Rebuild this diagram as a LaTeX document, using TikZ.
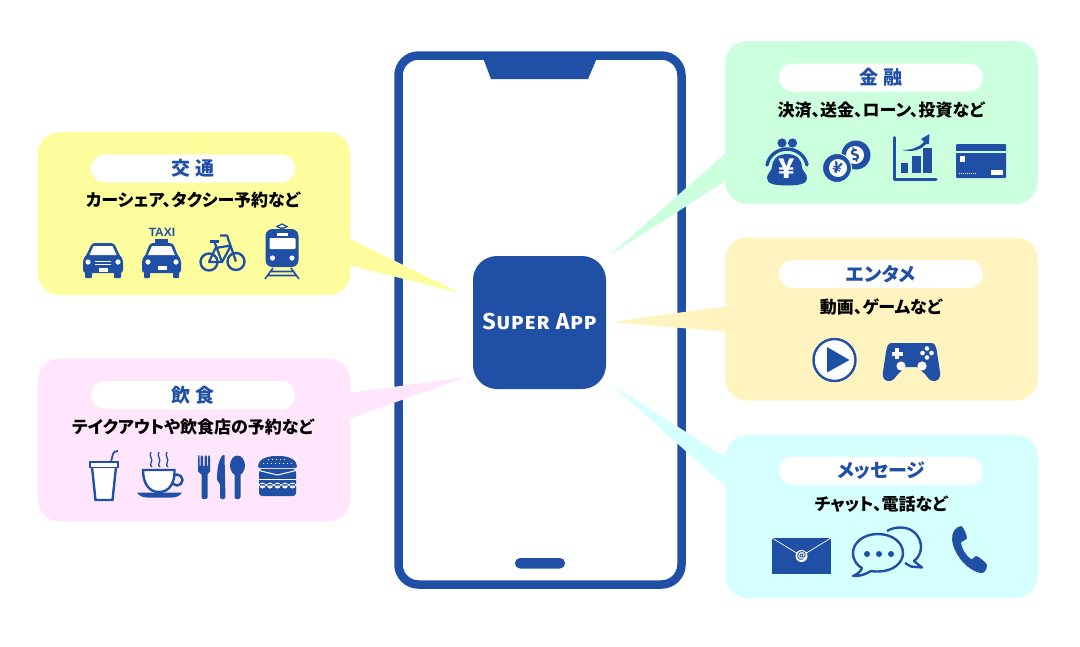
\documentclass[tikz,border=0pt]{standalone}
\usepackage{fontspec}
\setmainfont[RawFeature=+palt]{Noto Sans CJK JP}
\newfontfamily\appfont[Letters=SmallCaps,LetterSpace=4]{Fira Sans}
\newfontfamily\taxifont{Liberation Sans}
\usepackage{tikz}
\usetikzlibrary{positioning}
\usepackage{xcolor}
\definecolor{appblue}{HTML}{2050A5}
\definecolor{yellowbg}{HTML}{FDFD9E}
\definecolor{pinkbg}{HTML}{FFE6FC}
\definecolor{greenbg}{HTML}{CCFFDD}
\definecolor{creambg}{HTML}{FFF4BF}
\definecolor{cyanbg}{HTML}{D6FFFF}
\tikzset{
  infobox/.style={rounded corners=22pt,minimum width=312.5pt,minimum height=163pt,inner sep=0pt},
  titlepill/.style={fill=white,rounded corners=14pt,minimum width=204pt,minimum height=28pt,inner sep=0pt,
    text=appblue,font=\fontsize{19}{19}\selectfont\bfseries},
  infotext/.style={inner sep=0pt,font=\fontsize{17}{17}\selectfont\bfseries},
  iconline/.style={draw=appblue,line width=2.4pt},
}
\begin{document}
\begin{tikzpicture}[x=1pt,y=-1pt]
\useasboundingbox (0,0) rectangle (1080,646);
% phone
\draw[appblue,line width=8.5pt,rounded corners=20pt] (398.5,55.5) rectangle (681.5,584.5);
\fill[appblue] (483,58)--(597,58)--(588,79)--(491,79)--cycle;
\fill[appblue,rounded corners=5pt] (515,558) rectangle (565,568.5);
\node[fill=appblue,rounded corners=24pt,minimum size=133pt,inner sep=0pt,text=white,
  font=\fontsize{23}{23}\selectfont\appfont\bfseries] (superapp) at (539.5,322.5) {\raisebox{1.5pt}{Super App}};
% boxes
\node[infobox,fill=yellowbg] (kotsu) at (194,213.5) {};
\node[infobox,fill=pinkbg] (inshoku) at (194,440) {};
\node[infobox,fill=greenbg] (kinyu) at (881.5,122.5) {};
\node[infobox,fill=creambg] (enta) at (881.5,319) {};
\node[infobox,fill=cyanbg] (message) at (881.5,516.5) {};
\coordinate (kotsutip) at (460,293);
\coordinate (inshokutip) at (466,377);
\coordinate (kinyutip) at (610,255);
\coordinate (entatip) at (612,322);
\coordinate (messagetip) at (612,385);
\fill[yellowbg] ([xshift=-2pt,yshift=-24.5pt]kotsu.east)--(kotsutip)--([xshift=-2pt,yshift=-51.5pt]kotsu.east)--cycle;
\fill[pinkbg] ([xshift=-2pt,yshift=47pt]inshoku.east)--(inshokutip)--([xshift=-2pt,yshift=21pt]inshoku.east)--cycle;
\fill[greenbg] ([xshift=2pt,yshift=-29.5pt]kinyu.west)--(kinyutip)--([xshift=2pt,yshift=-57.5pt]kinyu.west)--cycle;
\fill[creambg] ([xshift=2pt,yshift=13pt]enta.west)--(entatip)--([xshift=2pt,yshift=-13pt]enta.west)--cycle;
\fill[cyanbg] ([xshift=2pt,yshift=58.5pt]message.west)--(messagetip)--([xshift=2pt,yshift=28.5pt]message.west)--cycle;
% titles
\node[titlepill] (kotsutitle) at (193,168.5) {交 通};
\node[titlepill] (inshokutitle) at (193,395) {飲 食};
\node[titlepill] (kinyutitle) at (881,77.5) {金 融};
\node[titlepill] (entatitle) at (881,274) {エンタメ};
\node[titlepill] (messagetitle) at (881,471) {メッセージ};
\node[infotext] (kotsutext) at (193,200.5) {カーシェア、タクシー予約など};
\node[infotext] (inshokutext) at (193,427.5) {テイクアウトや飲食店の予約など};
\node[infotext] (kinyutext) at (881,110) {決済、送金、ローン、投資など};
\node[infotext] (entatext) at (881,307) {動画、ゲームなど};
\node[infotext] (messagetext) at (881,504) {チャット、電話など};
% car
\fill[appblue,rounded corners=3pt] (92,243)--(114,243)--(120,256)--(123,259)--(123,273)--(83,273)--(83,259)--(86,256)--cycle;
\fill[appblue,rounded corners=1pt] (85,270) rectangle (92,278);
\fill[appblue,rounded corners=1pt] (114,270) rectangle (121,278);
\fill[white] (93.5,246)--(112.5,246)--(116.5,255)--(89.5,255)--cycle;
\fill[white] (88,262) circle(2.6);
\fill[white] (118,262) circle(2.6);
\draw[white,line width=.7pt] (95,261)--(111,261) (95,264)--(111,264);
\fill[white] (98.5,267.5) rectangle (107.5,271.5);
% taxi
\node[inner sep=0pt,text=appblue,font=\fontsize{12}{12}\selectfont\taxifont\bfseries] (taxilabel) at (162,232) {TAXI};
\fill[appblue] (155,239) rectangle (168,244);
\fill[appblue,rounded corners=3pt] (150,243)--(173,243)--(178,256)--(181,259)--(181,273)--(142,273)--(142,259)--(145,256)--cycle;
\fill[appblue,rounded corners=1pt] (144,270) rectangle (150,278);
\fill[appblue,rounded corners=1pt] (173,270) rectangle (179,278);
\fill[white] (152,246)--(171,246)--(175,255)--(148,255)--cycle;
\fill[white] (148,262) circle(2.6);
\fill[white] (176,262) circle(2.6);
\fill[white] (157.5,266) rectangle (166.5,270);
% bicycle
\draw[appblue,line width=2.4pt] (209,262) circle(8.5);
\draw[appblue,line width=2.4pt] (236,261.5) circle(8.5);
\draw[appblue,line width=2.2pt,line join=round] (220,235.5)--(227,235.5)--(236,261.5) (231,245.5)--(222,262)--(209,262)--(215.5,248)--(231,245.5) (222,262)--(214.5,242);
\draw[appblue,line width=2.6pt] (210,241.5)--(219,241.5);
% train
\draw[appblue,line width=1.3pt] (282,229)--(282,227) (277,226.5)--(282,224)--(287,226.5)--(282,229)--cycle;
\fill[appblue,rounded corners=7pt] (265.5,229) rectangle (298.5,267);
\fill[white,rounded corners=1pt] (269.5,238) rectangle (295.5,249);
\fill[white] (277,233) rectangle (288,235.5);
\fill[white] (272.5,258) circle(2.6);
\fill[white] (292,258) circle(2.6);
\draw[appblue,line width=1.6pt] (273,268)--(265,279) (291,268)--(299,279) (270.5,271.5)--(293.5,271.5) (268,275.5)--(296,275.5);
% cup
\draw[iconline,fill=white] (92,467)--(95.5,500)--(112.5,500)--(116,467);
\draw[iconline,line width=1.6pt,fill=white] (90,462) rectangle (118,467.5);
\draw[iconline,line width=1.8pt] (111,462)--(113,454) .. controls (113.5,452) and (115,451) .. (118,451);
% coffee
\draw[appblue,line width=1.3pt] (151,452) .. controls (148,456) and (154,459) .. (151,463) .. controls (150,465) and (151,466) .. (152,467);
\draw[appblue,line width=1.3pt] (159,452) .. controls (156,456) and (162,459) .. (159,463) .. controls (158,465) and (159,466) .. (160,467);
\draw[appblue,line width=1.3pt] (167,452) .. controls (164,456) and (170,459) .. (167,463) .. controls (166,465) and (167,466) .. (168,467);
\draw[iconline] (177,480) circle(5.5);
\draw[iconline,fill=white] (143,470)--(174.5,470) .. controls (175,482) and (170,492) .. (159,492) .. controls (148,492) and (143,482) .. (143,470)--cycle;
\fill[appblue] (137,492.5)--(182,492.5) .. controls (180,496) and (176,497.5) .. (172,497.5)--(147,497.5) .. controls (143,497.5) and (139,496) .. (137,492.5)--cycle;
% fork knife spoon
\fill[appblue,rounded corners=1.5pt] (198,455)--(199.5,455)--(199.5,467)--(200.5,467)--(200.5,455)--(203,455)--(203,467)--(204.5,467)--(204.5,455)--(207,455)--(207,467)--(208,467)--(208,455)--(210,455)--(210,470) .. controls (210,473) and (207.5,473) .. (207.5,476)--(207.5,499)--(201.5,499)--(201.5,476) .. controls (201.5,473) and (198,473) .. (198,470)--cycle;
\fill[appblue,rounded corners=1.5pt] (224.5,454) .. controls (219,458) and (217,468) .. (217,481)--(220,483)--(220,499)--(225.5,499)--cycle;
\fill[appblue] (237.5,465.5) ellipse(7.5 and 10);
\fill[appblue,rounded corners=2pt] (234.5,470) rectangle (240.5,499);
% burger
\fill[appblue,rounded corners=2pt] (258,468) .. controls (258,460) and (266,456) .. (277.5,456) .. controls (289,456) and (297,460) .. (297,468)--cycle;
\fill[appblue,rounded corners=3pt] (259,469) rectangle (296,496);
\draw[white,line width=1pt,dash pattern=on 1pt off 3pt] (268,459.5)--(288,459.5);
\draw[white,line width=1pt,dash pattern=on 1pt off 3pt] (263,463)--(292,463);
\draw[white,line width=1pt] (259,470.5)--(277.5,475)--(296,470.5);
\draw[white,line width=1pt] (258,479)--(297,479);
\fill[white] (258,484) rectangle (297,485.5) (262.5,485.5) circle(3) (270,485.5) circle(3) (277.5,485.5) circle(3) (285,485.5) circle(3) (292.5,485.5) circle(3);
% purse
\fill[appblue] (782,143) circle(4.6);
\fill[appblue] (792.5,143) circle(4.6);
\draw[appblue,line width=3.4pt,line cap=round] (767,165) .. controls (769,155) and (778,149) .. (787,149) .. controls (796,149) and (805,155) .. (807,165);
\fill[appblue] (787,154) .. controls (776,154) and (772,161) .. (772,167) .. controls (772,171) and (767,173) .. (767,178) .. controls (767,183) and (772,185.5) .. (787,185.5) .. controls (802,185.5) and (807,183) .. (807,178) .. controls (807,173) and (802,171) .. (802,167) .. controls (802,161) and (798,154) .. (787,154)--cycle;
\node[inner sep=0pt,text=white,font=\fontsize{27}{27}\selectfont\bfseries] (purseyen) at (787,169) {¥};
% coins
\fill[appblue] (856,155) circle(14.5);
\fill[white] (855,155) circle(9);
\node[inner sep=0pt,text=appblue,rotate=15,font=\fontsize{15}{15}\selectfont\bfseries] (coindollar) at (855,155) {\$};
\fill[appblue,draw=greenbg,line width=1pt] (837,168) circle(14.5);
\fill[white] (838,168) circle(9);
\node[inner sep=0pt,text=appblue,rotate=-20,font=\fontsize{15}{15}\selectfont\bfseries] (coinyen) at (838,168) {¥};
% chart
\draw[appblue,line width=3pt,line join=round,line cap=round] (894.5,137.5)--(894.5,179)--(936,179);
\fill[appblue] (901,163) rectangle (908,173);
\fill[appblue] (912,156) rectangle (921,173);
\fill[appblue] (923,148) rectangle (932,173);
\fill[appblue] (902,150) .. controls (911,150) and (918,148) .. (924,142)--(921,139)--(929.5,134)--(929,144)--(926,144) .. controls (920,151) and (911,152) .. (902,150)--cycle;
% card
\fill[appblue,rounded corners=1pt] (956,144) rectangle (1006,178);
\fill[greenbg] (956,150.5) rectangle (1006,153);
\fill[white] (959.5,156) rectangle (965,162);
\fill[white] (991,170) rectangle (1003,175);
\draw[white,line width=1pt,dash pattern=on 1pt off 1pt] (959,173.5)--(977,173.5);
% play
\draw[iconline,fill=white] (834.5,360) circle(21);
\fill[appblue] (827,347)--(849.5,360)--(827,372.5)--cycle;
% gamepad
\fill[appblue] (892,343)--(931,343) .. controls (935,343) and (936,346) .. (937,352)--(940,372) .. controls (941,379) and (937,381) .. (934,381) .. controls (930,381) and (928,378) .. (925,374)--(917,367)--(906,367)--(898,374) .. controls (895,378) and (893,381) .. (889,381) .. controls (885,381) and (882,379) .. (883,372)--(886,352) .. controls (887,346) and (888,343) .. (892,343)--cycle;
\fill[white] (895,348) rectangle (899,359);
\fill[white] (891.5,351.5) rectangle (902.5,355.5);
\fill[white] (927,348.5) circle(2.3);
\fill[white] (927,357.5) circle(2.3);
\fill[white] (922.5,353) circle(2.3);
\fill[white] (931.5,353) circle(2.3);
\fill[white] (901,366) circle(4.6);
\fill[white] (922,366) circle(4.6);
% envelope
\fill[appblue] (772,538) rectangle (831,574);
\draw[white,line width=.7pt] (772,538)--(801.5,556)--(831,538);
\fill[white] (801.5,556) circle(6);
\node[inner sep=0pt,text=appblue,font=\fontsize{9}{9}\selectfont\bfseries] (mailat) at (801.5,555.5) {@};
% chat
\draw[iconline,line join=round] (887,531) .. controls (891,528.5) and (896,527.5) .. (901,527.5) .. controls (913,527.5) and (921,537) .. (921,547) .. controls (921,553) and (918,558) .. (914,561)--(922,567.5)--(911,566.5)--(905,563);
\draw[iconline,fill=cyanbg,line join=round] (878,534) .. controls (863,534) and (853,543) .. (853,553) .. controls (853,561) and (858,566) .. (862,568) .. controls (861,571) and (858,574) .. (853,576) .. controls (860,576.5) and (866,574) .. (871,571) .. controls (873,571.5) and (875,571.5) .. (878,571.5) .. controls (893,571.5) and (903,563) .. (903,553) .. controls (903,543) and (893,534) .. (878,534)--cycle;
\fill[appblue] (867,554) circle(3);
\fill[appblue] (879,554) circle(3);
\fill[appblue] (891,554) circle(3);
% handset
\fill[appblue] (958,527) .. controls (952,530) and (951,538) .. (953,545) .. controls (957,558) and (968,570) .. (980,573) .. controls (984,574) and (987,570) .. (987,565) .. controls (987,563) and (978,556) .. (976,556) .. controls (974,556) and (973,560) .. (971,559) .. controls (966,556) and (962,549) .. (961,543) .. controls (961,541) and (967,540) .. (967,538) .. controls (967,535) and (963,526) .. (961,526) .. controls (960,526) and (959,526.5) .. (958,527)--cycle;
\end{tikzpicture}
\end{document}
